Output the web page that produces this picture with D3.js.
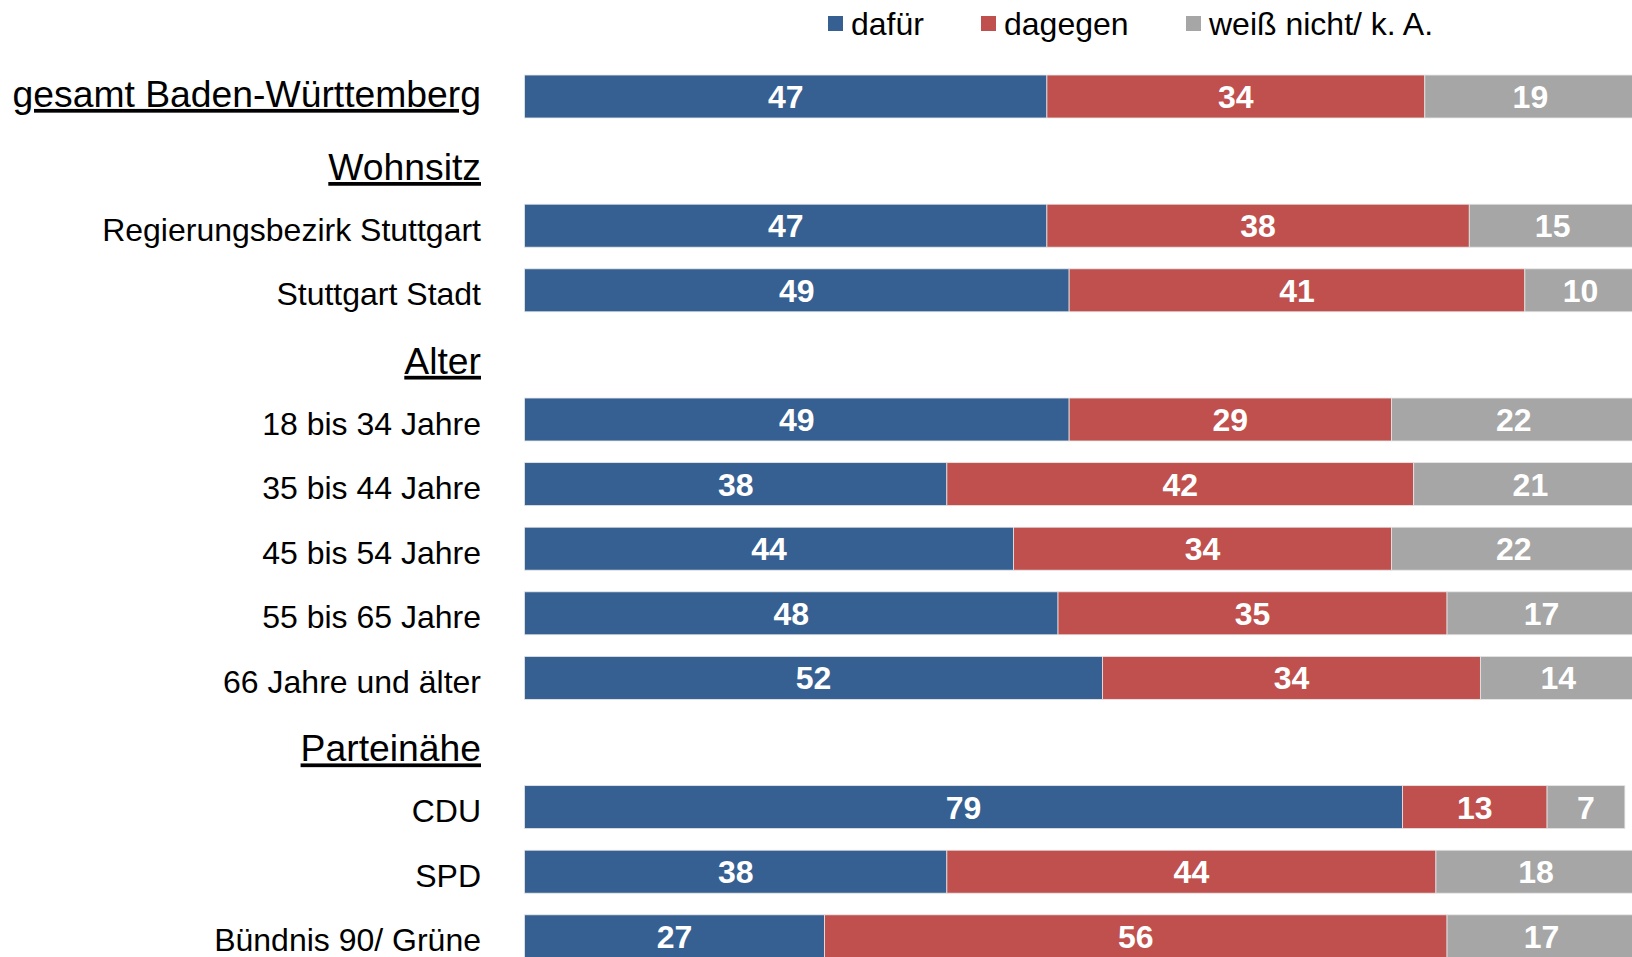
<!DOCTYPE html>
<html>
<head>
<meta charset="utf-8">
<script src="https://cdn.jsdelivr.net/npm/d3@7"></script>
<style>
  html, body { margin: 0; padding: 0; background: #fff; }
  svg { display: block; }
  text { font-family: "Liberation Sans", Arial, sans-serif; }
</style>
</head>
<body>
<div id="chart"></div>
<script>
const categories = ["gesamt Baden-Württemberg", "Wohnsitz", "Regierungsbezirk Stuttgart", "Stuttgart Stadt",
  "Alter", "18 bis 34 Jahre", "35 bis 44 Jahre", "45 bis 54 Jahre", "55 bis 65 Jahre", "66 Jahre und älter",
  "Parteinähe", "CDU", "SPD", "Bündnis 90/ Grüne"];
const headings = ["gesamt Baden-Württemberg", "Wohnsitz", "Alter", "Parteinähe"];
const dafuer  = [47, null, 47, 49, null, 49, 38, 44, 48, 52, null, 79, 38, 27];
const dagegen = [34, null, 38, 41, null, 29, 42, 34, 35, 34, null, 13, 44, 56];
const weiss   = [19, null, 15, 10, null, 22, 21, 22, 17, 14, null, 7, 18, 17];
const seriesNames = ["dafür", "dagegen", "weiß nicht/ k. A."];
const seriesColors = ["#376092", "#C0504D", "#A6A6A6"];

const W = 1632, H = 957;
const svg = d3.select("#chart").append("svg").attr("width", W).attr("height", H);

const x = d3.scaleLinear().domain([0, 100]).range([524.5, 1636]);
const y = d3.scaleBand().domain(categories).range([64.2, 968.6]).paddingInner(0.335).paddingOuter(0.1675);

const seriesData = [dafuer, dagegen, weiss];
const rows = categories.map((c, i) => ({ cat: c, vals: seriesData.map(s => s[i]) }));

// Bars
rows.forEach(r => {
  if (r.vals[0] == null) return;
  let acc = 0;
  r.vals.forEach((v, si) => {
    const x0 = x(acc), x1 = x(acc + v);
    const g = svg.append("g");
    g.append("rect")
      .attr("x", x0).attr("y", y(r.cat))
      .attr("width", x1 - x0).attr("height", y.bandwidth())
      .attr("fill", seriesColors[si])
      .attr("stroke", "#e6e6e6").attr("stroke-width", 0.8);
    g.append("text")
      .attr("x", (x0 + x1) / 2).attr("y", y(r.cat) + y.bandwidth() / 2)
      .attr("dy", "0.36em")
      .attr("text-anchor", "middle")
      .attr("fill", "#fff").attr("font-weight", "bold").attr("font-size", 32)
      .text(v);
    acc += v;
  });
});

// Category labels
rows.forEach((r, i) => {
  const isHead = headings.includes(r.cat);
  const isSection = r.vals[0] == null;
  const off = isSection ? 5.5 : (isHead ? -3 : 3.5);
  svg.append("text")
    .attr("x", 481)
    .attr("y", y(r.cat) + y.bandwidth() / 2 + off)
    .attr("dy", "0.36em")
    .attr("text-anchor", "end")
    .attr("font-size", isHead ? 37.3 : 32)
    .attr("fill", "#000")
    .attr("text-decoration", isHead ? "underline" : null)
    .text(r.cat);
});

// Legend
const legendX = [828, 981, 1186];
seriesNames.forEach((n, i) => {
  svg.append("rect").attr("x", legendX[i]).attr("y", 16).attr("width", 15).attr("height", 15)
    .attr("fill", seriesColors[i]);
  svg.append("text").attr("x", legendX[i] + 23).attr("y", 23.5).attr("dy", "0.36em")
    .attr("font-size", 32).attr("fill", "#000").text(n);
});
</script>
</body>
</html>
